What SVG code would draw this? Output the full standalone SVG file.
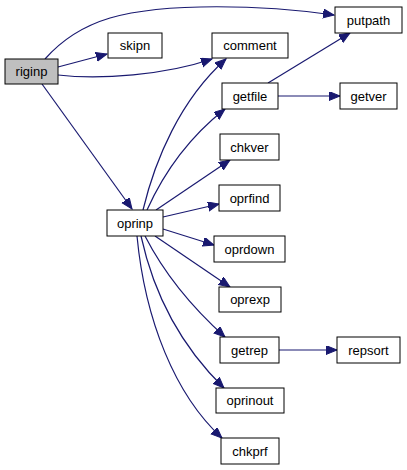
<svg xmlns="http://www.w3.org/2000/svg" width="407" height="470" viewBox="0 0 407 470">
<style>
.n rect{fill:#fff;stroke:#000;stroke-width:1}
.n text{font-family:"Liberation Sans",Arial,sans-serif;font-size:13px;text-anchor:middle;fill:#000}
.e path{fill:none;stroke:#191970;stroke-width:1.2}
</style>
<defs>
<marker id="a" markerUnits="userSpaceOnUse" markerWidth="12" markerHeight="10" refX="11" refY="4.5" orient="auto">
<path d="M0,0 L11,4.5 L0,9 Z" fill="#191970" stroke="#191970"/>
</marker>
</defs>
<rect width="407" height="470" fill="#fff"/>
<g class="e">
<path marker-end="url(#a)" d="M45,59 C60,42 80,27 110,18 C165,2 265,5 334,15"/>
<path marker-end="url(#a)" d="M58,67 L107,54"/>
<path marker-end="url(#a)" d="M58,75 C100,80 165,75 212,59"/>
<path marker-end="url(#a)" d="M42,84 L132,209"/>
<path marker-end="url(#a)" d="M143,210 C155,160 180,100 226,59"/>
<path marker-end="url(#a)" d="M147,210 C165,170 192,135 225,109"/>
<path marker-end="url(#a)" d="M156,210 L230,160"/>
<path marker-end="url(#a)" d="M163,217 L219,204"/>
<path marker-end="url(#a)" d="M163,229 L214,245"/>
<path marker-end="url(#a)" d="M155,236 L230,287"/>
<path marker-end="url(#a)" d="M145,236 C165,275 195,310 225,337"/>
<path marker-end="url(#a)" d="M141,236 C155,300 185,350 224,388"/>
<path marker-end="url(#a)" d="M137,236 C145,320 175,395 222,438"/>
<path marker-end="url(#a)" d="M268,83 L350,33"/>
<path marker-end="url(#a)" d="M278,96 L340,96"/>
<path marker-end="url(#a)" d="M279,350 L337,350"/>
</g>
<g id="riginp" class="n"><rect x="5" y="59" width="53" height="25" style="fill:#bfbfbf"/><text x="31.5" y="76">riginp</text></g>
<g id="skipn" class="n"><rect x="108" y="33" width="54" height="25"/><text x="135" y="50">skipn</text></g>
<g id="putpath" class="n"><rect x="335" y="7" width="67" height="26"/><text x="368.5" y="25">putpath</text></g>
<g id="comment" class="n"><rect x="212" y="33" width="76" height="25"/><text x="250" y="50">comment</text></g>
<g id="getfile" class="n"><rect x="222" y="83" width="56" height="26"/><text x="250" y="101">getfile</text></g>
<g id="getver" class="n"><rect x="340" y="83" width="57" height="26"/><text x="368.5" y="101">getver</text></g>
<g id="chkver" class="n"><rect x="220" y="134" width="59" height="26"/><text x="249.5" y="152">chkver</text></g>
<g id="oprfind" class="n"><rect x="219" y="185" width="61" height="26"/><text x="249.5" y="203">oprfind</text></g>
<g id="oprinp" class="n"><rect x="107" y="210" width="56" height="26"/><text x="135" y="228">oprinp</text></g>
<g id="oprdown" class="n"><rect x="214" y="236" width="71" height="26"/><text x="249.5" y="254">oprdown</text></g>
<g id="oprexp" class="n"><rect x="219" y="287" width="62" height="25"/><text x="250" y="304">oprexp</text></g>
<g id="getrep" class="n"><rect x="220" y="337" width="59" height="26"/><text x="249.5" y="355">getrep</text></g>
<g id="repsort" class="n"><rect x="337" y="337" width="63" height="26"/><text x="368.5" y="355">repsort</text></g>
<g id="oprinout" class="n"><rect x="216" y="388" width="68" height="25"/><text x="250" y="405">oprinout</text></g>
<g id="chkprf" class="n"><rect x="221" y="438" width="58" height="26"/><text x="250" y="456">chkprf</text></g>
</svg>
